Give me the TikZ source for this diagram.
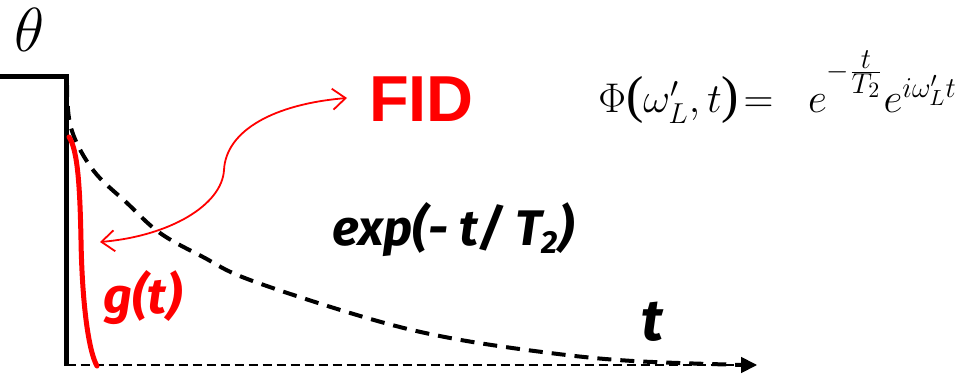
\documentclass[tikz,border=0pt]{standalone}
\usepackage{fontspec}
\setmainfont{Liberation Serif}
\newfontfamily\fidfont{Liberation Sans}
\newfontfamily\comicfont{Fira Sans}
\usetikzlibrary{arrows.meta}
\newcommand\bigparen[1]{\hbox{\fontsize{26}{26}\selectfont #1}}
\begin{document}
\begin{tikzpicture}[x=1pt,y=-1pt,
  lbl/.style={inner sep=0pt,anchor=base west},
  redarrow/.style={red,line width=1.8pt,{Straight Barb[length=13pt,width=21pt]}-{Straight Barb[length=13pt,width=21pt]}},
  comic/.style={font=\comicfont\bfseries\itshape}]
\useasboundingbox (0,0) rectangle (971,374);
% pulse
\coordinate (p0) at (0,77);
\coordinate (p1) at (66.5,77);
\coordinate (p2) at (66.5,366);
\draw[line width=5pt] (p0) -- (p1) -- (p2);
% time axis
\coordinate (ax0) at (66.5,365);
\coordinate (ax1) at (757,365);
\draw[line width=1.8pt,dash pattern=on 9pt off 5pt,-{Triangle[length=16pt,width=16pt]}] (ax0) -- (ax1);
% exponential envelope
\draw[line width=4pt,dash pattern=on 14pt off 9pt]
  plot[smooth,tension=0.6] coordinates {(67,83) (71,128) (93,170) (127,203) (160,233) (203,257) (250,280) (367,318) (450,338) (550,353) (633,361) (745,365)};
% g(t) red curve
\coordinate (g0) at (69,137);
\coordinate (g1) at (97,366);
\draw[red,line width=5pt,line cap=round] (g0) .. controls (78,150) and (80,190) .. (81,240)
  .. controls (82,300) and (88,350) .. (g1);
% labels
\node[lbl,scale=3] (theta) at (14,52) {\fontsize{20.7}{20.7}\selectfont$\theta$};
\node[lbl,red] (fid) at (369,122) {\fidfont\bfseries\fontsize{65}{65}\selectfont FID};
\node[lbl,comic] (expl) at (332,245) {\fontsize{50}{50}\selectfont exp(- t/ T\raisebox{-8pt}{\fontsize{32}{32}\selectfont 2})};
\node[lbl,comic,red] (gt) at (103,313) {\fontsize{50}{50}\selectfont g(t)};
\node[lbl,comic] (tl) at (641,340) {\fontsize{58}{58}\selectfont t};
\node[lbl,scale=2] (phi) at (598,113) {\fontsize{22}{22}\selectfont$\Phi\mathopen{\bigparen{(}}\omega'_L,t\mathclose{\bigparen{)}}\!=\;\;e^{\raisebox{9pt}{$\scriptstyle-\frac{\scriptstyle t}{\scriptstyle T_2}$}}e^{i\omega'_L t}$};
% double arrow between FID and g(t)
\coordinate (a0) at (100,242);
\coordinate (a1) at (347,98);
\draw[redarrow] (a0) .. controls (170,236) and (222,205) .. (224,170)
  .. controls (226,130) and (275,104) .. (a1);
\end{tikzpicture}
\end{document}
